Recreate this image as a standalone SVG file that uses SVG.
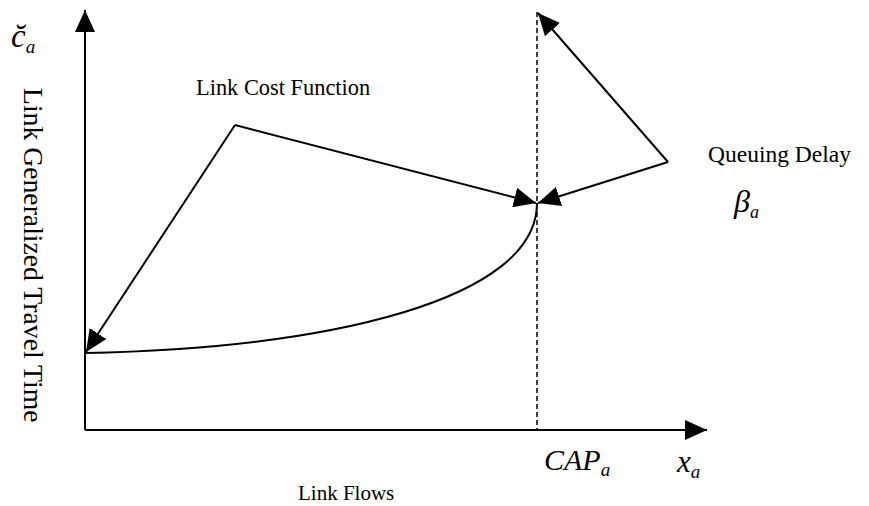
<svg xmlns="http://www.w3.org/2000/svg" width="869" height="506" viewBox="0 0 869 506">
  <style>
    .lbl { font-family: "Liberation Serif", "Times New Roman", serif; fill: #000; }
    .math { font-family: "Liberation Serif", "Times New Roman", serif; font-style: italic; fill: #000; }
    .ln { stroke: #000; stroke-width: 2; fill: none; }
  </style>
  <defs>
    <marker id="ah" viewBox="0 0 22 20" refX="22" refY="10" markerWidth="22" markerHeight="20" markerUnits="userSpaceOnUse" orient="auto">
      <path d="M0,0 L22,10 L0,20 Z" fill="#000"/>
    </marker>
  </defs>

  <!-- axes -->
  <g id="axes">
    <path class="ln" d="M85,430 L85,10" marker-end="url(#ah)"/>
    <path class="ln" d="M85,430 L707,430" marker-end="url(#ah)"/>
    <path d="M537,12 L537,430" stroke="#000" stroke-width="1.5" stroke-dasharray="5,3" fill="none"/>
  </g>

  <!-- link cost curve -->
  <g id="curve">
    <path class="ln" d="M85,353 C330,348 537,300 537,203"/>
  </g>

  <!-- connectors -->
  <g id="connectors">
    <path class="ln" d="M235,125 L86,352" marker-end="url(#ah)"/>
    <path class="ln" d="M235,125 L536,203" marker-end="url(#ah)"/>
    <path class="ln" d="M668,162 L538,203" marker-end="url(#ah)"/>
    <path class="ln" d="M668,162 L538,13" marker-end="url(#ah)"/>
  </g>

  <!-- labels -->
  <g id="label-cost-fn"><text class="lbl" x="196" y="95" font-size="22.4">Link Cost Function</text></g>
  <g id="label-queue"><text class="lbl" x="708" y="162" font-size="23.5">Queuing Delay</text></g>
  <g id="label-beta"><text class="math" x="734" y="212" font-size="32">β<tspan font-size="18" dy="6">a</tspan></text></g>
  <g id="label-c"><text class="math" x="11" y="47" font-size="33">c̆<tspan font-size="19" dy="6">a</tspan></text></g>
  <g id="label-cap"><text class="math" x="544" y="470" font-size="30">CAP<tspan font-size="19" dy="6">a</tspan></text></g>
  <g id="label-x"><text class="math" x="677" y="472" font-size="31">x<tspan font-size="19" dy="6">a</tspan></text></g>
  <g id="label-flows"><text class="lbl" x="298" y="500" font-size="21">Link Flows</text></g>
  <g id="label-y"><text class="lbl" font-size="27.7" transform="translate(24,88) rotate(90)">Link Generalized Travel Time</text></g>
</svg>
